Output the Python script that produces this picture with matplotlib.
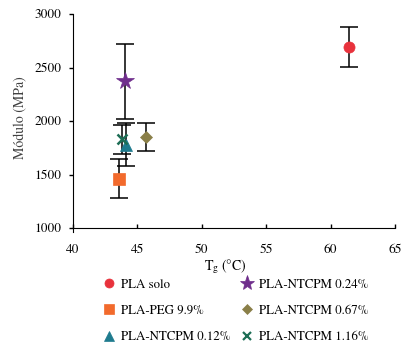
import matplotlib
matplotlib.use("Agg")
import matplotlib.pyplot as plt
from matplotlib.lines import Line2D

plt.rcParams['font.family'] = ['TeX Gyre Termes', 'Liberation Serif', 'DejaVu Serif']
plt.rcParams['mathtext.fontset'] = 'custom'
plt.rcParams['mathtext.rm'] = 'TeX Gyre Termes'
plt.rcParams['mathtext.it'] = 'TeX Gyre Termes:italic'

labels = ["PLA solo", "PLA-PEG 9.9%", "PLA-NTCPM 0.12%", "PLA-NTCPM 0.24%", "PLA-NTCPM 0.67%", "PLA-NTCPM 1.16%"]
tg = [61.4, 43.6, 44.1, 44.0, 45.7, 43.8]
modulo = [2690, 1460, 1780, 2370, 1850, 1830]
err = [185, 182, 197, 350, 133, 135]
markers = ['o', 's', '^', '*', 'D', 'x']
sizes = [8, 8, 8, 13, 6, 7]
colors = ['#E8323C', '#F26A2C', '#1E7B8E', '#6F2E8C', '#8A7F48', '#1D6E55']

fig = plt.figure(figsize=(4.07, 3.48), dpi=100)
ax = fig.add_axes([73/407, 1-228/348, (395-73)/407, (228-14)/348])

handles = []
for i in range(len(labels)):
    ax.errorbar(tg[i], modulo[i], yerr=err[i], fmt='none', ecolor='black',
                elinewidth=1.1, capsize=6.2, capthick=1.1, zorder=2)
    ax.plot(tg[i], modulo[i], marker=markers[i], markersize=sizes[i], color=colors[i],
            linestyle='none', markeredgewidth=1.8 if markers[i] == 'x' else 0.5, zorder=3)
    hs = [6.5, 6.5, 6.5, 11, 5, 5.5][i]
    handles.append(Line2D([], [], marker=markers[i], markersize=hs,
                          color=colors[i], linestyle='none',
                          markeredgewidth=1.6 if markers[i] == 'x' else 0.5))

ax.set_xlim(40, 65)
ax.set_ylim(1000, 3000)
ax.set_xticks([40, 45, 50, 55, 60, 65])
ax.set_yticks([1000, 1500, 2000, 2500, 3000])
ax.spines['top'].set_visible(False)
ax.spines['right'].set_visible(False)
ax.spines['left'].set_bounds(1000 - 37, 3000)
ax.tick_params(axis='y', direction='out', length=3, width=1, labelsize=9.7, pad=5.5)
ax.tick_params(axis='x', direction='in', length=3, width=1, labelsize=9.7, pad=11.5)
ax.set_xlabel("T$_\\mathregular{g}$ (°C)", fontsize=10)
ax.set_ylabel("Módulo (MPa)", fontsize=10, color='#404040')
ax.xaxis.set_label_coords((225-73)/322, (228-257)/214)
ax.yaxis.set_label_coords((27-73)/322, (228-117.5)/214)

fig.legend(handles, labels, ncol=2, loc='upper left', bbox_to_anchor=(91/407, 1-267/348),
           frameon=False, fontsize=9.3, handlelength=1.0, handletextpad=0.4,
           columnspacing=0.8, labelspacing=1.1)

fig.savefig("out.png", dpi=100)
